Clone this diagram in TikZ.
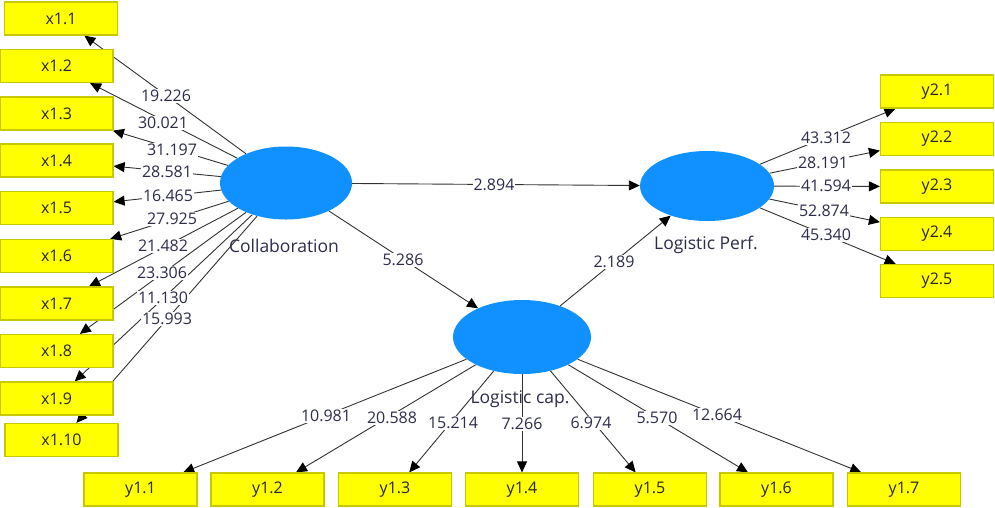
\documentclass[tikz,border=0pt]{standalone}
\usepackage{fontspec}
\setmainfont{Open Sans}
\usetikzlibrary{arrows.meta,shapes.geometric}
\pgfdeclarelayer{lowest}
\pgfdeclarelayer{bg}
\pgfsetlayers{lowest,bg,main}
\definecolor{lvblue}{RGB}{16,145,255}
\definecolor{boxyel}{RGB}{255,255,0}
\definecolor{boxedge}{RGB}{200,200,0}
\definecolor{numcol}{RGB}{45,45,75}
\definecolor{linecol}{RGB}{50,50,50}
\begin{document}
\begin{tikzpicture}[x=1pt,y=-1pt,
  mbox/.style={draw=boxedge, line width=1.2pt, fill=boxyel, minimum width=113pt, minimum height=33pt, inner sep=0pt, font=\fontsize{16}{19}\selectfont, text=black!85},
  latent/.style={ellipse, fill=lvblue, inner sep=0pt},
  conn/.style={draw=linecol, line width=0.9pt, -{Triangle[length=11pt,width=10pt,color=black]}},
  val/.style={fill=white, inner sep=1pt, font=\fontsize{16}{19}\selectfont, text=numcol},
  lvname/.style={inner sep=0pt, font=\fontsize{17.5}{20}\selectfont, text=numcol}]
\useasboundingbox (0,0) rectangle (995,507);

% latent variables
\node[latent, minimum width=132pt, minimum height=73pt] (coll) at (286,183) {};
\node[latent, minimum width=134pt, minimum height=70pt] (perf) at (707,186) {};
\node[latent, minimum width=138pt, minimum height=74pt] (cap) at (522,337) {};
\begin{pgfonlayer}{lowest}
\node[lvname] (collname) at (284,246) {Collaboration};
\node[lvname] (perfname) at (706,245) {Logistic Perf.};
\node[lvname] (capname) at (520,399) {Logistic cap.};
\end{pgfonlayer}

% indicator boxes left
\node[mbox] (x1) at (61,18.5) {x1.1};
\node[mbox] (x2) at (56.5,66) {x1.2};
\node[mbox] (x3) at (56.5,113.5) {x1.3};
\node[mbox] (x4) at (56.5,160.5) {x1.4};
\node[mbox] (x5) at (56.5,208) {x1.5};
\node[mbox] (x6) at (56.5,256) {x1.6};
\node[mbox] (x7) at (56.5,303.5) {x1.7};
\node[mbox] (x8) at (56.5,351) {x1.8};
\node[mbox] (x9) at (56.5,398.5) {x1.9};
\node[mbox] (x10) at (61.5,440) {x1.10};

% right boxes
\node[mbox] (r1) at (937,91.5) {y2.1};
\node[mbox] (r2) at (937,139) {y2.2};
\node[mbox] (r3) at (937,186.5) {y2.3};
\node[mbox] (r4) at (937,234) {y2.4};
\node[mbox] (r5) at (937,281) {y2.5};

% bottom boxes
\node[mbox] (b1) at (140.5,489.5) {y1.1};
\node[mbox] (b2) at (267.5,489.5) {y1.2};
\node[mbox] (b3) at (395,489.5) {y1.3};
\node[mbox] (b4) at (522,489.5) {y1.4};
\node[mbox] (b5) at (650,489.5) {y1.5};
\node[mbox] (b6) at (776.5,489.5) {y1.6};
\node[mbox] (b7) at (904,489.5) {y1.7};

% connectors
\begin{pgfonlayer}{bg}
\foreach \t in {x1,x2,x3,x4,x5,x6,x7,x8,x9,x10} {\draw[conn] (coll) -- (\t);}
\foreach \t in {r1,r2,r3,r4,r5} {\draw[conn] (perf) -- (\t);}
\foreach \t in {b1,b2,b3,b4,b5,b6,b7} {\draw[conn] (cap) -- (\t);}
\draw[conn] (coll) -- (perf);
\draw[conn] (coll) -- (cap);
\draw[conn] (cap) -- (perf);
\end{pgfonlayer}

% values
\node[val] (v1) at (166,96) {19.226};
\node[val] (v2) at (163,123) {30.021};
\node[val] (v3) at (172,150) {31.197};
\node[val] (v4) at (167,172) {28.581};
\node[val] (v5) at (168,196) {16.465};
\node[val] (v6) at (172,219) {27.925};
\node[val] (v7) at (163,246) {21.482};
\node[val] (v8) at (162,273) {23.306};
\node[val] (v9) at (163,298) {11.130};
\node[val] (v10) at (167,319) {15.993};

\node[val] (w1) at (826,138) {43.312};
\node[val] (w2) at (823,163) {28.191};
\node[val] (w3) at (826,186) {41.594};
\node[val] (w4) at (824,211) {52.874};
\node[val] (w5) at (826,235) {45.340};

\node[val] (u1) at (326,416) {10.981};
\node[val] (u2) at (392,418) {20.588};
\node[val] (u3) at (453,423) {15.214};
\node[val] (u4) at (522,424) {7.266};
\node[val] (u5) at (591,423) {6.974};
\node[val] (u6) at (657,418) {5.570};
\node[val] (u7) at (717,415) {12.664};

\node[val] (p1) at (494,185) {2.894};
\node[val] (p2) at (403,260) {5.286};
\node[val] (p3) at (614,262) {2.189};
\end{tikzpicture}
\end{document}
